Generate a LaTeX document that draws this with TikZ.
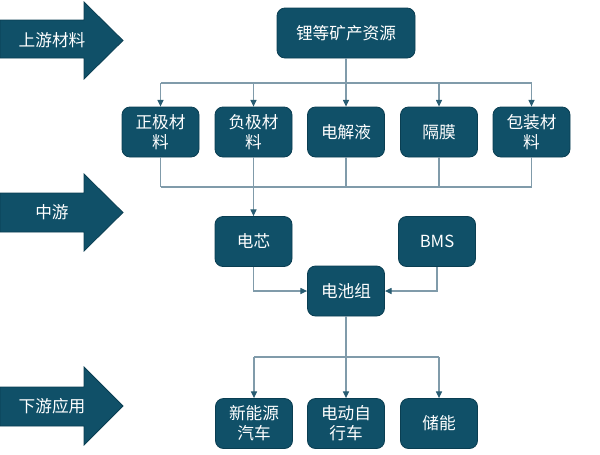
\documentclass[tikz,border=0pt]{standalone}
\usepackage{fontspec}
\setmainfont{Noto Sans CJK SC}
\usetikzlibrary{arrows.meta}
\definecolor{boxfill}{RGB}{16,80,104}
\definecolor{boxedge}{RGB}{10,62,82}
\definecolor{linec}{RGB}{128,155,170}
\definecolor{tipc}{RGB}{40,92,114}
\begin{document}
\begin{tikzpicture}[x=0.75pt,y=-0.75pt,
  box/.style={draw=boxedge, fill=boxfill, rounded corners=6pt, minimum width=57.75pt,
    minimum height=37.5pt, text=white, font=\fontsize{12.5}{15}\selectfont,
    align=center, inner sep=0pt, line width=0.6pt},
  bigarrow/.style={draw=boxedge, fill=boxfill, line width=0.6pt},
  arrowlabel/.style={text=white, font=\fontsize{12.5}{15}\selectfont, inner sep=0pt},
  conn/.style={draw=linec, line width=0.8pt},
  arr/.style={conn, -{Triangle[length=5pt,width=4.5pt,color=tipc]}}
]
\useasboundingbox (0,0) rectangle (600,454);

% stage arrows
\draw[bigarrow] (0,20) -- (84,20) -- (84,2) -- (123,40.5) -- (84,79) -- (84,58) -- (0,58) -- cycle;
\node[arrowlabel] (up) at (52,40) {上游材料};
\draw[bigarrow] (0,193) -- (84,193) -- (84,174) -- (123,212.5) -- (84,251) -- (84,232) -- (0,232) -- cycle;
\node[arrowlabel] (mid) at (52,212) {中游};
\draw[bigarrow] (0,387) -- (84,387) -- (84,367) -- (123,406) -- (84,445) -- (84,426) -- (0,426) -- cycle;
\node[arrowlabel] (down) at (52,406) {下游应用};

% boxes
\node[box, minimum width=103.5pt] (mine) at (346,33) {锂等矿产资源};
\node[box] (pos)  at (160.5,132) {正极材\\料};
\node[box] (neg)  at (253.5,132) {负极材\\料};
\node[box] (ele)  at (346,132) {电解液};
\node[box] (sep)  at (439,132) {隔膜};
\node[box] (pack) at (531.5,132) {包装材\\料};
\node[box] (cell) at (253.5,241.5) {电芯};
\node[box] (bms)  at (437,241.5) {BMS};
\node[box] (bat)  at (346,291) {电池组};
\node[box] (ev)   at (254,423.5) {新能源\\汽车};
\node[box] (bike) at (346,423.5) {电动自\\行车};
\node[box] (sto)  at (439,423.5) {储能};

% bus coordinates
\coordinate (b1) at (346,83);
\coordinate (b2) at (346,187);
\coordinate (b3) at (346,357);

% upstream distribution
\draw[arr] (mine.south) -- (ele.north);
\draw[conn] (b1 -| pos) -- (b1 -| pack);
\draw[arr] (b1 -| pos) -- (pos.north);
\draw[arr] (b1 -| neg) -- (neg.north);
\draw[arr] (b1 -| sep) -- (sep.north);
\draw[arr] (b1 -| pack) -- (pack.north);

% collection bus
\draw[conn] (pos.south) -- (b2 -| pos);
\draw[conn] (ele.south) -- (b2 -| ele);
\draw[conn] (sep.south) -- (b2 -| sep);
\draw[conn] (pack.south) -- (b2 -| pack);
\draw[conn] (b2 -| pos) -- (b2 -| pack);
\draw[arr] (neg.south) -- (cell.north);

% battery pack
\draw[arr] (cell.south) |- (bat.west);
\draw[arr] (bms.south) |- (bat.east);

% downstream
\draw[arr] (bat.south) -- (bike.north);
\draw[conn] (b3 -| ev) -- (b3 -| sto);
\draw[arr] (b3 -| ev) -- (ev.north);
\draw[arr] (b3 -| sto) -- (sto.north);
\end{tikzpicture}
\end{document}
